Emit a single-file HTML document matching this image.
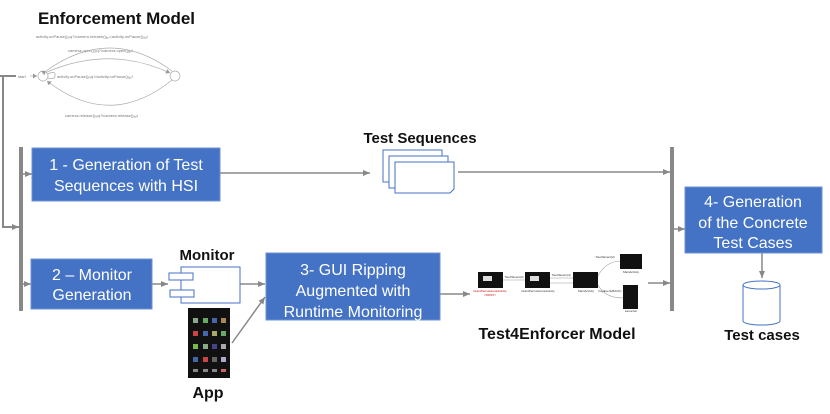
<!DOCTYPE html>
<html><head><meta charset="utf-8"><style>
html,body{margin:0;padding:0;background:#fff;width:830px;height:414px;overflow:hidden}
svg text{font-family:"Liberation Sans",sans-serif}
</style></head><body>
<svg width="830" height="414" viewBox="0 0 830 414" xmlns="http://www.w3.org/2000/svg">
<defs>
<marker id="a" markerWidth="8" markerHeight="8" refX="7" refY="4" orient="auto" markerUnits="userSpaceOnUse"><path d="M0,1 L7,4 L0,7 Z" fill="#888"/></marker>
<marker id="s" markerWidth="5" markerHeight="5" refX="4" refY="2.5" orient="auto" markerUnits="userSpaceOnUse"><path d="M0,0 L4,2.5 L0,5 Z" fill="#999"/></marker>
</defs>
<text x="38" y="24" font-size="17" font-weight="bold" fill="#111" textLength="157">Enforcement Model</text>
<g font-size="4" fill="#777">
<text x="36" y="38">activity.onPause()ᵣₑq?/camera.release()ₐₚᵢ!;activity.onPause()ₐₚᵢ!</text>
<text x="68" y="52">camera.open()ᵣₑq?/camera.open()ₐₚᵢ!</text>
<text x="57" y="78">activity.onPause()ᵣₑq?/activity.onPause()ₐₚᵢ!</text>
<text x="65" y="117">camera.release()ᵣₑq?/camera.release()ₐₚᵢ!</text>
<text x="18" y="78">start</text>
</g>
<g fill="none" stroke="#aaa" stroke-width="0.7">
<circle cx="43" cy="76" r="5"/><circle cx="175" cy="76" r="5"/>
<path d="M30,76 L37,76" marker-end="url(#s)"/>
<path d="M46,71 Q110,25 172,71" marker-start="url(#s)"/>
<path d="M47,72 Q110,45 170,73" marker-end="url(#s)"/>
<path d="M48,74 Q56,70 55,76 Q54,80 48,78"/>
<path d="M172,80 Q110,130 47,81" marker-end="url(#s)"/>
</g>
<g stroke="#888" stroke-width="2" fill="none">
<path d="M0,76 L16,76"/>
<path d="M3,76 L3,227 L19,227" marker-end="url(#a)"/>
</g>
<rect x="19" y="147" width="4" height="164" fill="#888"/>
<rect x="670" y="147" width="4" height="164" fill="#888"/>
<g stroke="#888" stroke-width="1.5" fill="none">
<path d="M23,174 L32,174" marker-end="url(#a)"/>
<path d="M23,284 L31,284" marker-end="url(#a)"/>
<path d="M220,173 L370,173" marker-end="url(#a)"/>
<path d="M458,172 L670,172" marker-end="url(#a)"/>
<path d="M152,284 L168,284" marker-end="url(#a)"/>
<path d="M240,284 L265,284" marker-end="url(#a)"/>
<path d="M232,343 L265,297" marker-end="url(#a)"/>
<path d="M440,294 L470,294" marker-end="url(#a)"/>
<path d="M648,283 L670,283" marker-end="url(#a)"/>
<path d="M674,229 L685,229" marker-end="url(#a)"/>
<path d="M762,253 L762,278" marker-end="url(#a)"/>
</g>
<g fill="#4472C4" stroke="#6f93d3" stroke-width="1">
<rect x="32" y="148" width="188" height="53"/>
<rect x="31" y="259" width="121" height="50"/>
<rect x="266" y="253" width="174" height="67"/>
<rect x="685" y="187" width="137" height="66"/>
</g>
<g fill="#fff" font-size="16" text-anchor="middle">
<text x="126" y="170">1 - Generation of Test</text>
<text x="126" y="191">Sequences with HSI</text>
<text x="92" y="280">2 – Monitor</text>
<text x="92" y="300">Generation</text>
<text x="353" y="275">3- GUI Ripping</text>
<text x="353" y="296">Augmented with</text>
<text x="353" y="317">Runtime Monitoring</text>
<text x="753" y="207">4- Generation</text>
<text x="753" y="228">of the Concrete</text>
<text x="753" y="248">Test Cases</text>
</g>
<text x="420" y="143" font-size="15" font-weight="bold" text-anchor="middle" fill="#111">Test Sequences</text>
<g fill="#fff" stroke="#4472C4" stroke-width="1">
<rect x="383" y="150" width="59" height="32"/>
<rect x="389" y="156" width="59" height="32"/>
<path d="M395,162 L454,162 L454,189 L450,193 L395,193 Z"/>
</g>
<text x="207" y="260" font-size="15" font-weight="bold" text-anchor="middle" fill="#111">Monitor</text>
<g fill="#fff" stroke="#4472C4" stroke-width="1">
<rect x="181" y="267" width="59" height="36"/>
<rect x="169" y="273" width="24" height="7"/>
<rect x="170" y="290" width="24" height="7"/>
</g>
<rect x="188" y="308" width="42" height="70" fill="#111"/>
<g fill="#8a8">
<rect x="193" y="318" width="5" height="5"/><rect x="203" y="318" width="5" height="5" fill="#6a6"/><rect x="212" y="318" width="5" height="5" fill="#46a"/><rect x="221" y="318" width="5" height="5" fill="#a85"/>
<rect x="193" y="331" width="5" height="5" fill="#c44"/><rect x="203" y="331" width="5" height="5" fill="#46a"/><rect x="212" y="331" width="5" height="5" fill="#aa6"/><rect x="221" y="331" width="5" height="5" fill="#6a6"/>
<rect x="193" y="344" width="5" height="5" fill="#7b4"/><rect x="203" y="344" width="5" height="5" fill="#8a8"/><rect x="212" y="344" width="5" height="5" fill="#448"/><rect x="221" y="344" width="5" height="5" fill="#aaa"/>
<rect x="193" y="357" width="5" height="5" fill="#46a"/><rect x="203" y="357" width="5" height="5" fill="#c44"/><rect x="212" y="357" width="5" height="5" fill="#666"/><rect x="221" y="357" width="5" height="5" fill="#aac"/>
<rect x="193" y="369" width="5" height="3" fill="#888"/><rect x="203" y="369" width="5" height="3" fill="#888"/><rect x="212" y="369" width="5" height="3" fill="#888"/><rect x="221" y="369" width="5" height="3" fill="#c66"/>
</g>
<text x="208" y="398" font-size="16" font-weight="bold" text-anchor="middle" fill="#111">App</text>
<g fill="#111">
<rect x="478" y="272" width="25" height="16"/>
<rect x="525" y="272" width="25" height="16"/>
<rect x="573" y="272" width="25" height="16"/>
<rect x="620" y="254" width="22" height="15"/>
<rect x="623" y="285" width="15" height="24"/>
</g>
<g fill="#ddd"><rect x="483" y="276" width="9" height="5"/><rect x="530" y="276" width="9" height="5"/></g>
<g stroke="#999" stroke-width="0.6" fill="none">
<path d="M503,280 L525,280"/><path d="M550,278 L573,278"/><path d="M550,283 L573,283"/>
<path d="M598,276 Q605,262 620,261"/><path d="M598,285 Q605,298 623,298"/>
</g>
<g font-size="3" text-anchor="middle">
<text x="490" y="292" fill="#c00">GrantPermissionsActivity</text>
<text x="490" y="296" fill="#c00">&lt;FIRST&gt;</text>
<text x="538" y="292" fill="#333">GrantPermissionsActivity</text>
<text x="586" y="292" fill="#333">MainActivity</text>
<text x="631" y="273" fill="#333">MainActivity</text>
<text x="631" y="312" fill="#333">Launcher</text>
<text x="514" y="278" fill="#333">TouchEvent(3)</text>
<text x="561" y="276" fill="#333">TouchEvent(4)</text>
<text x="605" y="258" fill="#333">TouchEvent(2)</text>
<text x="610" y="292" fill="#333">KeyEvent(BACK)</text>
</g>
<text x="557" y="339" font-size="16" font-weight="bold" text-anchor="middle" fill="#111">Test4Enforcer Model</text>
<g fill="#fff" stroke="#4472C4" stroke-width="1">
<path d="M743,285 L743,321 A18.5,4 0 0 0 780,321 L780,285"/>
<ellipse cx="761.5" cy="285" rx="18.5" ry="4"/>
</g>
<text x="762" y="340" font-size="15" font-weight="bold" text-anchor="middle" fill="#111">Test cases</text>
</svg>
</body></html>
